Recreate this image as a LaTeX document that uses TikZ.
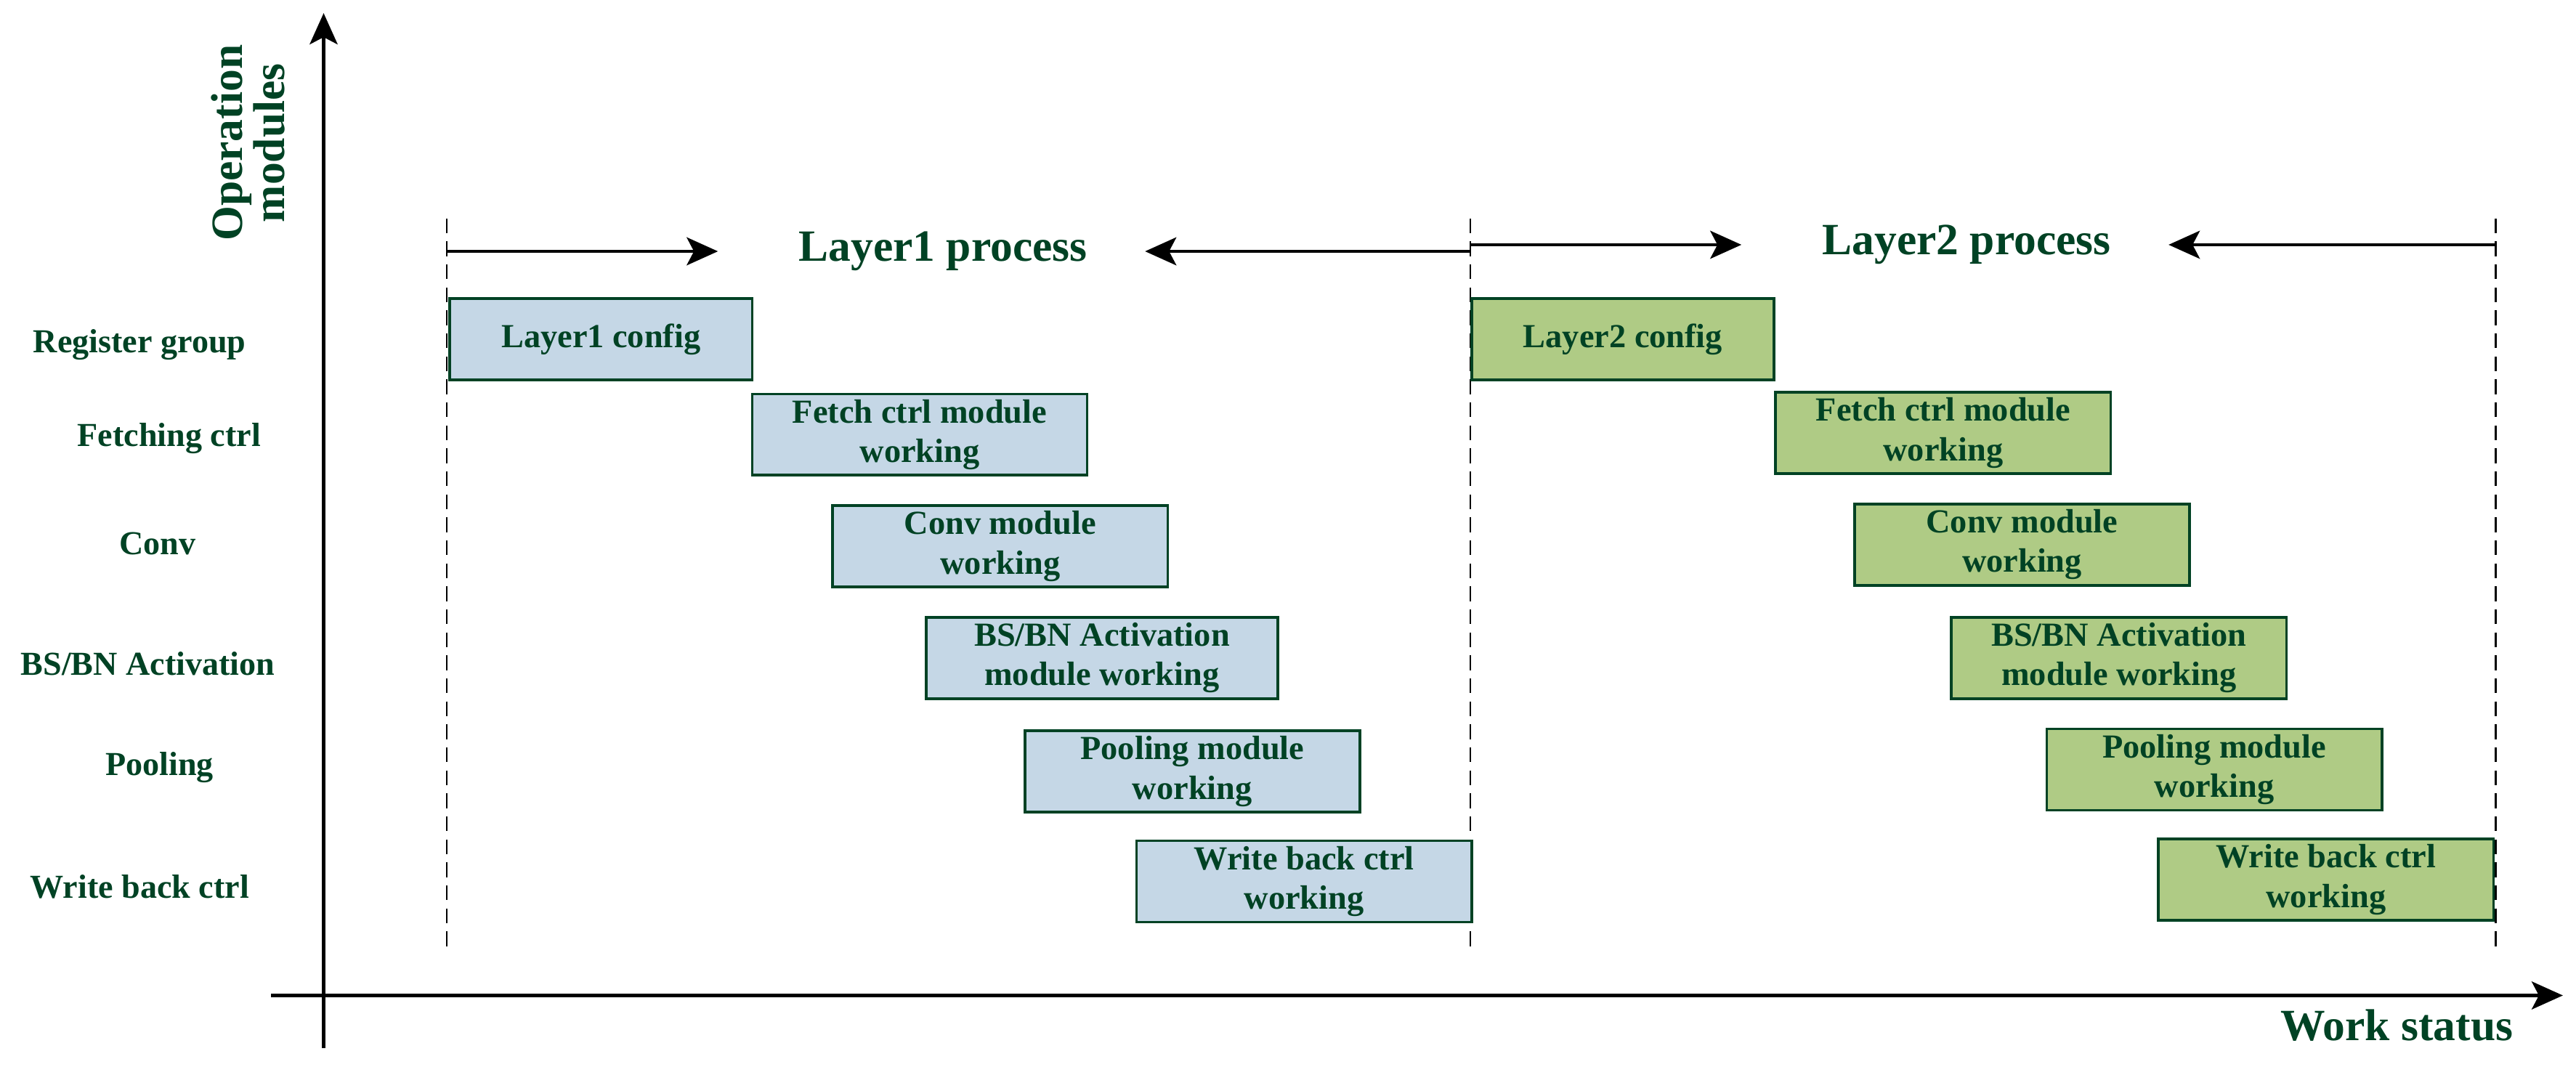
\documentclass[tikz,border=0pt]{standalone}
\usepackage{fontspec}
\setmainfont{Liberation Serif}
\usetikzlibrary{arrows.meta}
\definecolor{dkgreen}{RGB}{0,66,36}
\definecolor{blfill}{RGB}{197,215,230}
\definecolor{gnfill}{RGB}{175,203,133}
\tikzset{every picture/.style={line width=0.75pt}}
\tikzset{
  modbox/.style={draw=dkgreen, line width=0.8pt, anchor=north west, minimum width=102pt, minimum height=24.75pt, inner sep=0pt, align=center, text=dkgreen, font=\bfseries\fontsize{10.25}{12}\selectfont},
  lyrA/.style={modbox, fill=blfill},
  lyrB/.style={modbox, fill=gnfill},
  rowlbl/.style={text=dkgreen, font=\bfseries\fontsize{10.2}{12}\selectfont, inner sep=0pt},
  bigtxt/.style={text=dkgreen, font=\bfseries\fontsize{13.6}{13}\selectfont, inner sep=0pt, align=center},
  arrtip/.style={-{Stealth[length=9.5pt,width=8.5pt,inset=2.2pt]}},
  bnd/.style={dash pattern=on 4.5pt off 2.5pt, line width=0.6pt, black}
}

\begin{document}
\begin{tikzpicture}[x=0.5pt,y=0.5pt,yscale=-1,xscale=1]
\useasboundingbox (0,0) rectangle (1568,654);

% axes
\coordinate (ybot) at (197,638);
\coordinate (ytop) at (197,8);
\coordinate (xlft) at (165,606);
\coordinate (xrgt) at (1560,606);
\draw [arrtip, line width=0.9pt] (ybot) -- (ytop);
\draw [arrtip, line width=0.9pt] (xlft) -- (xrgt);

% Text Node
\node [bigtxt, rotate=90] (opmod) at (151,87) {Operation\\modules};
% Text Node
\node [bigtxt] (wstat) at (1459,624) {Work status};

% row labels
\node [rowlbl] (rreg) at (85,210) {Register group};
\node [rowlbl] (rfetch) at (103,267) {Fetching ctrl};
\node [rowlbl] (rconv) at (96,331) {Conv};
\node [rowlbl] (rbsbn) at (90,404) {BS/BN Activation};
\node [rowlbl] (rpool) at (97,467) {Pooling};
\node [rowlbl] (rwb) at (85,540) {Write back ctrl};

% layer boundaries
\coordinate (d1t) at (272,133);
\coordinate (d1b) at (272,578);
\coordinate (d2t) at (895,133);
\coordinate (d2b) at (895,578);
\coordinate (d3t) at (1519,133);
\coordinate (d3b) at (1519,578);
\draw [bnd] (d1t) -- (d1b);
\draw [bnd] (d2t) -- (d2b);
\draw [bnd] (d3t) -- (d3b);

% Layer1 process
\node [bigtxt] (lp1) at (574,153) {Layer1 process};
\coordinate (a1s) at (272,153);
\coordinate (a1e) at (437,153);
\coordinate (b1s) at (895,153);
\coordinate (b1e) at (697,153);
\draw [arrtip, line width=1pt] (a1s) -- (a1e);
\draw [arrtip, line width=1pt] (b1s) -- (b1e);

% Layer2 process
\node [bigtxt] (lp2) at (1197,149) {Layer2 process};
\coordinate (a2s) at (895,149);
\coordinate (a2e) at (1060,149);
\coordinate (b2s) at (1519,149);
\coordinate (b2e) at (1320,149);
\draw [arrtip, line width=1pt] (a2s) -- (a2e);
\draw [arrtip, line width=1pt] (b2s) -- (b2e);

% Layer1 boxes
\node [lyrA, minimum width=92pt] (cfg1) at (273,181) {Layer1 config};
\node [lyrA] (fetch1) at (457,239) {Fetch ctrl module\\working};
\node [lyrA] (conv1) at (506,307) {Conv module\\working};
\node [lyrA, minimum width=107pt] (bsbn1) at (563,375) {BS/BN Activation\\module working};
\node [lyrA] (pool1) at (623,444) {Pooling module\\working};
\node [lyrA] (wb1) at (691,511) {Write back ctrl\\working};

% Layer2 boxes
\node [lyrB, minimum width=92pt] (cfg2) at (895,181) {Layer2 config};
\node [lyrB] (fetch2) at (1080,238) {Fetch ctrl module\\working};
\node [lyrB] (conv2) at (1128,306) {Conv module\\working};
\node [lyrB] (bsbn2) at (1187,375) {BS/BN Activation\\module working};
\node [lyrB] (pool2) at (1245,443) {Pooling module\\working};
\node [lyrB] (wb2) at (1313,510) {Write back ctrl\\working};
\end{tikzpicture}
\end{document}
